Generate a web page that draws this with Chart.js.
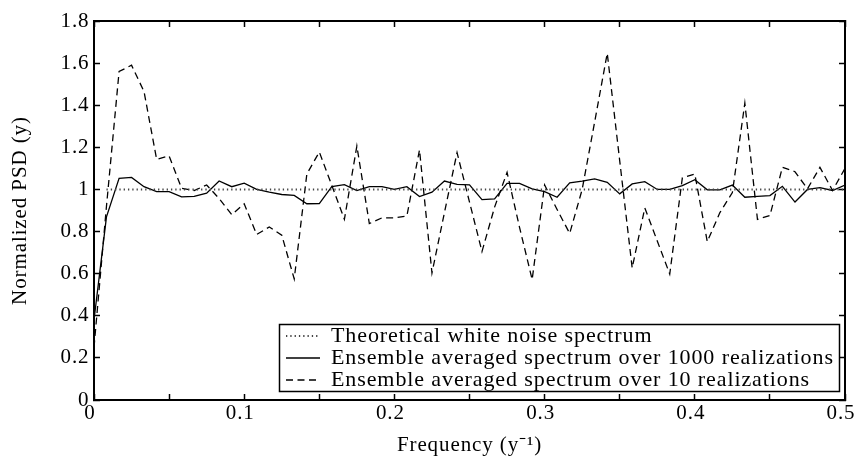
<!DOCTYPE html>
<html><head><meta charset="utf-8">
<script src="https://cdn.jsdelivr.net/npm/chart.js@4.4.0/dist/chart.umd.min.js"></script>
<style>html,body{margin:0;padding:0;background:#fff;}canvas{display:block;}</style>
</head><body>
<canvas id="c" width="868" height="458"></canvas>
<script>
const frequency = [0, 0.0083, 0.0167, 0.025, 0.0333, 0.0417, 0.05, 0.0583, 0.0667, 0.075,
  0.0833, 0.0917, 0.1, 0.1083, 0.1167, 0.125, 0.1333, 0.1417, 0.15, 0.1583,
  0.1667, 0.175, 0.1833, 0.1917, 0.2, 0.2083, 0.2167, 0.225, 0.2333, 0.2417,
  0.25, 0.2583, 0.2667, 0.275, 0.2833, 0.2917, 0.3, 0.3083, 0.3167, 0.325,
  0.3333, 0.3417, 0.35, 0.3583, 0.3667, 0.375, 0.3833, 0.3917, 0.4, 0.4083,
  0.4167, 0.425, 0.4333, 0.4417, 0.45, 0.4583, 0.4667, 0.475, 0.4833, 0.4917, 0.5];
const psd1000 = [0.38, 0.87, 1.053, 1.057, 1.013, 0.99, 0.99, 0.965, 0.967, 0.982,
  1.04, 1.013, 1.03, 1.0, 0.987, 0.976, 0.972, 0.932, 0.933, 1.013,
  1.023, 0.995, 1.013, 1.013, 1.0, 1.013, 0.966, 0.987, 1.04, 1.024,
  1.022, 0.952, 0.955, 1.029, 1.029, 1.003, 0.99, 0.963, 1.031, 1.039,
  1.05, 1.034, 0.979, 1.026, 1.037, 1.0, 1.0, 1.018, 1.046, 0.998,
  0.998, 1.021, 0.963, 0.967, 0.971, 1.015, 0.94, 1.0, 1.009, 0.995, 1.021];
const psd10 = [0.25, 0.92, 1.56, 1.59, 1.465, 1.143, 1.159, 1.006, 0.995, 1.021,
  0.957, 0.88, 0.932, 0.786, 0.822, 0.783, 0.575, 1.073, 1.178, 1.02,
  0.858, 1.206, 0.838, 0.865, 0.865, 0.874, 1.188, 0.603, 0.89, 1.175,
  0.94, 0.705, 0.916, 1.081, 0.82, 0.572, 1.021, 0.905, 0.791, 1.0,
  1.32, 1.647, 1.136, 0.627, 0.912, 0.755, 0.598, 1.055, 1.073, 0.752,
  0.89, 0.985, 1.41, 0.858, 0.876, 1.105, 1.084, 1.003, 1.105, 0.995, 1.10];
const whiteFreq = [0.0083, 0.5];
const whitePsd = [1, 1];
const seriesNames = ['Theoretical white noise spectrum',
  'Ensemble averaged spectrum over 1000 realizations',
  'Ensemble averaged spectrum over 10 realizations'];
const xTickLabels = ['0', '0.1', '0.2', '0.3', '0.4', '0.5'];
const yTickLabels = ['0', '0.2', '0.4', '0.6', '0.8', '1', '1.2', '1.4', '1.6', '1.8'];
const xTitle = 'Frequency (y\u207B\u00B9)';
const yTitle = 'Normalized PSD (y)';

const FAMILY = "'Liberation Serif', 'Times New Roman', serif";
const pts = (xs, ys) => xs.map((x, i) => ({x: x, y: ys[i]}));

const gridOpts = {drawOnChartArea: false, drawTicks: true, tickLength: -6, tickColor: '#000', tickWidth: 1.5};
const borderOpts = {display: true, color: '#000', width: 2};

const LS = '0.9px';
const spacing = {
  id: 'spacing',
  beforeUpdate(c) { c.ctx.letterSpacing = LS; },
  beforeLayout(c) { c.ctx.letterSpacing = LS; },
  beforeDraw(c) { c.ctx.letterSpacing = LS; }
};
const legendPlace = {
  id: 'legendPlace',
  afterLayout(c) {
    const l = c.legend; if (!l) return;
    l.left = 286; l.top = 325; l.width = 552; l.height = 70;
    l.right = l.left + l.width; l.bottom = l.top + l.height;
  }
};
const legendFrame = {
  id: 'legendFrame',
  afterDraw(c) {
    const ctx = c.ctx; ctx.save();
    ctx.strokeStyle = '#000'; ctx.lineWidth = 1.5; ctx.setLineDash([]);
    ctx.strokeRect(279.5, 324.5, 560, 67);
    ctx.restore();
  }
};

new Chart(document.getElementById('c'), {
  type: 'line',
  data: {
    datasets: [
      {label: seriesNames[0], data: pts(whiteFreq, whitePsd), borderColor: '#444', borderWidth: 2, borderDash: [1.3, 3], backgroundColor: 'transparent', pointRadius: 0, tension: 0},
      {label: seriesNames[1], data: pts(frequency, psd1000), borderColor: '#000', borderWidth: 1.3, backgroundColor: 'transparent', pointRadius: 0, tension: 0},
      {label: seriesNames[2], data: pts(frequency, psd10), borderColor: '#000', borderWidth: 1.3, borderDash: [7, 4.5], backgroundColor: 'transparent', pointRadius: 0, tension: 0}
    ]
  },
  options: {
    responsive: false, animation: false, devicePixelRatio: 1,
    layout: {padding: 0},
    plugins: {
      tooltip: {enabled: false},
      legend: {
        position: 'chartArea', align: 'start',
        labels: {
          font: {family: FAMILY, size: 22}, color: '#000', usePointStyle: true, pointStyle: 'line', pointStyleWidth: 34, padding: 0,
          generateLabels: chart => chart.data.datasets.map((d, i) => ({
            text: d.label, fillStyle: 'transparent', strokeStyle: d.borderColor,
            lineWidth: d.borderWidth, lineDash: d.borderDash || [], pointStyle: 'line',
            hidden: false, datasetIndex: i, fontColor: '#000'
          }))
        }
      }
    },
    scales: {
      x: {
        type: 'linear', position: 'bottom', min: 0, max: 0.5,
        ticks: {stepSize: 0.05, autoSkip: false, maxRotation: 0, color: '#000', padding: 8.5, labelOffset: -4,
          font: {family: FAMILY, size: 21, lineHeight: 1},
          callback: v => { const i = Math.round(v / 0.05); return i % 2 === 0 ? xTickLabels[i / 2] : ''; }},
        grid: gridOpts, border: borderOpts,
        title: {display: true, text: xTitle, color: '#000', font: {family: FAMILY, size: 21, lineHeight: 1}, padding: {top: 0, bottom: 2}},
        afterFit: s => { s.height = 58; }
      },
      x2: {
        type: 'linear', position: 'top', min: 0, max: 0.5,
        ticks: {display: false, stepSize: 0.05, autoSkip: false},
        grid: gridOpts, border: borderOpts,
        afterFit: s => { s.height = 17; }
      },
      y: {
        type: 'linear', position: 'left', min: 0, max: 1.8,
        ticks: {stepSize: 0.2, autoSkip: false, color: '#000', padding: 10.5,
          font: {family: FAMILY, size: 21, lineHeight: 1},
          callback: v => yTickLabels[Math.round(v / 0.2)]},
        grid: gridOpts, border: borderOpts,
        title: {display: true, text: yTitle, color: '#000', font: {family: FAMILY, size: 21, lineHeight: 1}, padding: {top: 10, bottom: 0}},
        afterFit: s => { s.width = 94; }
      },
      y2: {
        type: 'linear', position: 'right', min: 0, max: 1.8,
        ticks: {display: false, stepSize: 0.2, autoSkip: false},
        grid: gridOpts, border: borderOpts,
        afterFit: s => { s.width = 12; }
      }
    }
  },
  plugins: [spacing, legendPlace, legendFrame]
});
</script>
</body></html>
